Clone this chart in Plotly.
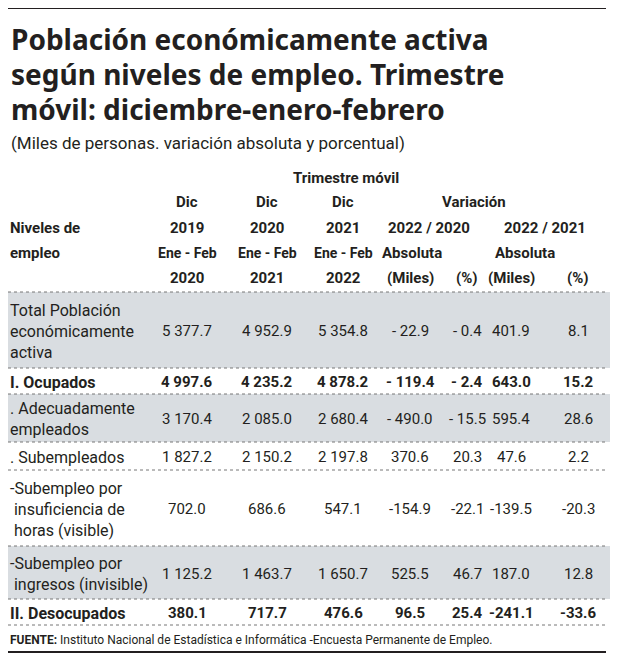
import plotly.graph_objects as go

niveles = ["Total Población<br>económicamente<br>activa", "I. Ocupados",
           ". Adecuadamente<br>empleados", ". Subempleados",
           "-Subempleo por<br> insuficiencia de<br> horas (visible)",
           "-Subempleo por<br> ingresos (invisible)", "II. Desocupados"]
dic2019 = ["5 377.7", "4 997.6", "3 170.4", "1 827.2", "702.0", "1 125.2", "380.1"]
dic2020 = ["4 952.9", "4 235.2", "2 085.0", "2 150.2", "686.6", "1 463.7", "717.7"]
dic2021 = ["5 354.8", "4 878.2", "2 680.4", "2 197.8", "547.1", "1 650.7", "476.6"]
abs_2020 = ["- 22.9", "- 119.4", "- 490.0", "370.6", "-154.9", "525.5", "96.5"]
pct_2020 = ["- 0.4", "- 2.4", "- 15.5", "20.3", "-22.1", "46.7", "25.4"]
abs_2021 = ["401.9", "643.0", "595.4", "47.6", "-139.5", "187.0", "-241.1"]
pct_2021 = ["8.1", "15.2", "28.6", "2.2", "-20.3", "12.8", "-33.6"]
negrita = [False, True, False, False, False, False, True]
sombreado = [True, False, True, False, False, True, False]

# layout in pixels (page has an 8px body margin, so ranges are offset)
row_top = [292, 368, 394, 442, 470, 546, 599, 625]
col_x = [187, 267, 343, 410, 467, 511, 578]
FONT = "Roboto, sans-serif"
DARK = "#231f20"

fig = go.Figure()
fig.add_trace(go.Scatter(x=[0], y=[0], mode="markers", marker=dict(opacity=0), hoverinfo="skip"))
ann, shapes = [], []

def txt(x, y, s, size=15, anchor="center", bold=False, family=FONT):
    ann.append(dict(x=x, y=y, text=f"<b>{s}</b>" if bold else s, xanchor=anchor, yanchor="middle",
                    showarrow=False, align="left", font=dict(family=family, size=size, color=DARK)))

shapes.append(dict(type="line", x0=8, x1=606, y0=8, y1=8, line=dict(color=DARK, width=2)))
for i, s in enumerate(["Población económicamente activa", "según niveles de empleo. Trimestre",
                       "móvil: diciembre-enero-febrero"]):
    txt(9, 39 + 35 * i, s, size=28, anchor="left", bold=True, family="Noto Sans, sans-serif")
txt(9, 143, "(Miles de personas. variación absoluta y porcentual)", size=17, anchor="left")

# header
txt(346, 178, "Trimestre móvil", bold=True)
txt(474, 202, "Variación", bold=True)
for cx in col_x[:3]:
    txt(cx, 202, "Dic", bold=True)
for cx, yr in zip(col_x[:3], ["2019", "2020", "2021"]):
    txt(cx, 228, yr, bold=True)
for cx, yr in zip(col_x[:3], ["2020", "2021", "2022"]):
    txt(cx, 253, "Ene - Feb", bold=True, size=14)
    txt(cx, 278, yr, bold=True)
txt(429, 228, "2022 / 2020", bold=True)
txt(545, 228, "2022 / 2021", bold=True)
txt(412, 253, "Absoluta", bold=True)
txt(525, 253, "Absoluta", bold=True)
for cx, s in zip(col_x[3:], ["(Miles)", "(%)", "(Miles)", "(%)"]):
    txt(cx, 278, s, bold=True)
txt(8, 228, "Niveles de", anchor="left", bold=True)
txt(8, 253, "empleo", anchor="left", bold=True)

cols = [dic2019, dic2020, dic2021, abs_2020, pct_2020, abs_2021, pct_2021]
for i, lab in enumerate(niveles):
    y0, y1 = row_top[i], row_top[i + 1]
    if sombreado[i]:
        shapes.append(dict(type="rect", x0=8, x1=610, y0=y0, y1=y1, fillcolor="#d9dde1",
                           line=dict(width=0), layer="below"))
    ym = (y0 + y1) / 2 + 1
    txt(8, ym, lab, anchor="left", bold=negrita[i], size=16)
    for cx, c in zip(col_x, cols):
        txt(cx, ym, c[i], bold=negrita[i], size=15)
for y in row_top:
    shapes.append(dict(type="line", x0=8, x1=606, y0=y, y1=y, line=dict(color="#777", width=1, dash="dot")))

txt(8, 640, "<b>FUENTE:</b> Instituto Nacional de Estadística e Informática -Encuesta Permanente de Empleo.",
    size=12, anchor="left")
shapes.append(dict(type="line", x0=8, x1=606, y0=652, y1=652, line=dict(color=DARK, width=2)))

fig.update_layout(width=620, height=662, margin=dict(l=0, r=0, t=0, b=0),
                  plot_bgcolor="white", paper_bgcolor="white", showlegend=False,
                  xaxis=dict(range=[8, 628], visible=False, fixedrange=True),
                  yaxis=dict(range=[670, 8], visible=False, fixedrange=True),
                  annotations=ann, shapes=shapes)
fig.write_html("out.html")
